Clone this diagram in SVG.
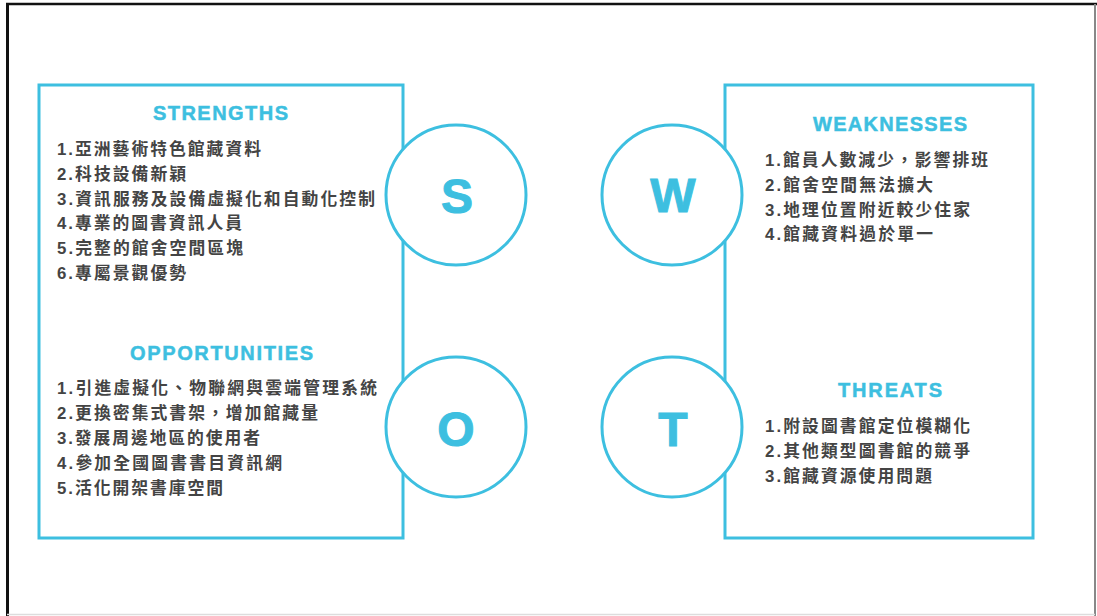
<svg xmlns="http://www.w3.org/2000/svg" width="1097" height="616" viewBox="0 0 1097 616">
<style>
.box{fill:none;stroke:#3dbfe0;stroke-width:3}
.circ{fill:#ffffff;stroke:#3dbfe0;stroke-width:3}
.ttl{font-family:"Liberation Sans",Arial,sans-serif;font-weight:bold;font-size:20px;fill:#3dbfe0;stroke:#3dbfe0;stroke-width:0.5}
.big{font-family:"Liberation Sans",Arial,sans-serif;font-weight:bold;font-size:48px;fill:#3dbfe0;text-anchor:middle;stroke:#3dbfe0;stroke-width:1}
.item{font-family:"Liberation Sans","Noto Sans CJK TC",sans-serif;font-weight:bold;font-size:16.8px;fill:#444444}
</style>
<rect x="0" y="0" width="1097" height="616" fill="#ffffff"/>
<g id="frame">
<line x1="6" y1="4" x2="1097" y2="4" stroke="#111" stroke-width="2.5"/>
<line x1="7.5" y1="3" x2="7.5" y2="616" stroke="#111" stroke-width="3"/>
<line x1="1095" y1="4" x2="1095" y2="616" stroke="#888" stroke-width="2"/>
<line x1="7" y1="614.5" x2="1095" y2="614.5" stroke="#ddd" stroke-width="1.5"/>
</g>
<g id="connectors"/>
<g id="strengths-opportunities-box">
<rect class="box" x="39" y="85" width="364" height="453"/>
</g>
<g id="weaknesses-threats-box">
<rect class="box" x="725" y="85" width="308" height="453"/>
</g>
<g id="strengths">
<text class="ttl" x="153" y="120" textLength="135" lengthAdjust="spacing">STRENGTHS</text>
<text class="item" x="57" y="155" textLength="204" lengthAdjust="spacing">1.亞洲藝術特色館藏資料</text>
<text class="item" x="57" y="180" textLength="129" lengthAdjust="spacing">2.科技設備新穎</text>
<text class="item" x="57" y="204.5" textLength="318" lengthAdjust="spacing">3.資訊服務及設備虛擬化和自動化控制</text>
<text class="item" x="57" y="229" textLength="185" lengthAdjust="spacing">4.專業的圖書資訊人員</text>
<text class="item" x="57" y="254" textLength="186" lengthAdjust="spacing">5.完整的館舍空間區塊</text>
<text class="item" x="57" y="279" textLength="129" lengthAdjust="spacing">6.專屬景觀優勢</text>
</g>
<g id="opportunities">
<text class="ttl" x="130" y="360" textLength="183" lengthAdjust="spacing">OPPORTUNITIES</text>
<text class="item" x="57" y="394" textLength="320" lengthAdjust="spacing">1.引進虛擬化、物聯網與雲端管理系統</text>
<text class="item" x="57" y="419" textLength="261" lengthAdjust="spacing">2.更換密集式書架，增加館藏量</text>
<text class="item" x="57" y="444" textLength="203" lengthAdjust="spacing">3.發展周邊地區的使用者</text>
<text class="item" x="57" y="469" textLength="225" lengthAdjust="spacing">4.參加全國圖書書目資訊網</text>
<text class="item" x="57" y="494" textLength="166" lengthAdjust="spacing">5.活化開架書庫空間</text>
</g>
<g id="weaknesses">
<text class="ttl" x="813" y="131" textLength="154" lengthAdjust="spacing">WEAKNESSES</text>
<text class="item" x="765" y="166" textLength="223" lengthAdjust="spacing">1.館員人數減少，影響排班</text>
<text class="item" x="765" y="191" textLength="168" lengthAdjust="spacing">2.館舍空間無法擴大</text>
<text class="item" x="765" y="215.5" textLength="205" lengthAdjust="spacing">3.地理位置附近較少住家</text>
<text class="item" x="765" y="240" textLength="168" lengthAdjust="spacing">4.館藏資料過於單一</text>
</g>
<g id="threats">
<text class="ttl" x="838" y="397" textLength="104" lengthAdjust="spacing">THREATS</text>
<text class="item" x="765" y="432" textLength="205" lengthAdjust="spacing">1.附設圖書館定位模糊化</text>
<text class="item" x="765" y="457" textLength="205" lengthAdjust="spacing">2.其他類型圖書館的競爭</text>
<text class="item" x="765" y="481.5" textLength="167" lengthAdjust="spacing">3.館藏資源使用問題</text>
</g>
<g id="circle-s">
<circle class="circ" cx="456" cy="195" r="70"/>
<text class="big" x="457" y="213">S</text>
</g>
<g id="circle-w">
<circle class="circ" cx="672" cy="195" r="70"/>
<text class="big" x="673" y="212">W</text>
</g>
<g id="circle-o">
<circle class="circ" cx="456" cy="427" r="70"/>
<text class="big" x="456" y="446">O</text>
</g>
<g id="circle-t">
<circle class="circ" cx="672" cy="427" r="70"/>
<text class="big" x="673" y="446">T</text>
</g>
</svg>
